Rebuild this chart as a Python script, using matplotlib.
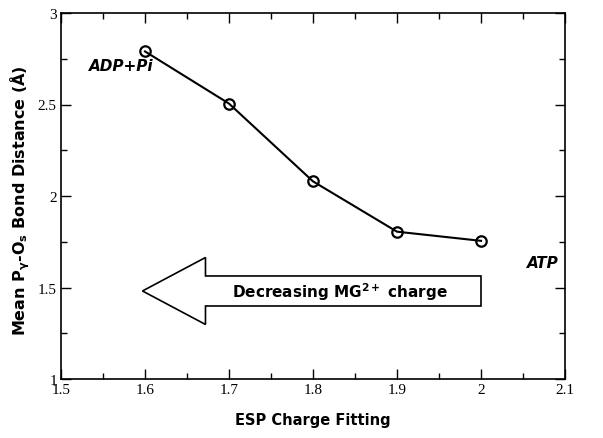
import numpy as np
import matplotlib.pyplot as plt
from matplotlib.patches import FancyArrow
from matplotlib.ticker import MultipleLocator

# data
esp_charge = [1.6, 1.7, 1.8, 1.9, 2.0]
mean_dist = [2.79, 2.505, 2.08, 1.805, 1.755]
xticks = [1.5, 1.6, 1.7, 1.8, 1.9, 2.0, 2.1]
xtick_labels = ['1.5', '1.6', '1.7', '1.8', '1.9', '2', '2.1']
yticks = [1, 1.5, 2, 2.5, 3]
ytick_labels = ['1', '1.5', '2', '2.5', '3']

fig = plt.figure(figsize=(6.03, 4.39), dpi=100)
ax = fig.add_axes([61 / 603, 1 - 380 / 439, 504 / 603, 366 / 439])

ax.plot(esp_charge, mean_dist, color='black', lw=1.5, marker='o', ms=7.5,
        mfc='none', mec='black', mew=1.6)

ax.set_xlim(1.5, 2.1)
ax.set_ylim(1, 3)
ax.set_xticks(xticks)
ax.set_xticklabels(xtick_labels)
ax.set_yticks(yticks)
ax.set_yticklabels(ytick_labels)
ax.xaxis.set_minor_locator(MultipleLocator(0.05))
ax.yaxis.set_minor_locator(MultipleLocator(0.25))
ax.tick_params(which='both', direction='in', top=True, right=True,
               labelsize=11, width=1, pad=3)
ax.tick_params(which='major', length=7)
ax.tick_params(which='minor', length=4)
for lab in ax.get_xticklabels() + ax.get_yticklabels():
    lab.set_fontfamily('Liberation Serif')
for s in ax.spines.values():
    s.set_linewidth(1.2)

ax.set_xlabel('ESP Charge Fitting', fontsize=10.5, fontweight='bold')
ax.xaxis.set_label_coords(0.5, -0.09)
ax.set_ylabel(r'Mean P$_\mathbf{\gamma}$-O$_\mathbf{s}$ Bond Distance (Å)',
              fontsize=11.5, fontweight='bold')
ax.yaxis.set_label_coords(-0.057, 0.49)

# annotations
ax.text(1.533, 2.69, 'ADP+Pi', fontsize=11, fontweight='bold', style='italic')
ax.text(2.055, 1.61, 'ATP', fontsize=11, fontweight='bold', style='italic')

arrow = FancyArrow(2.0, 1.481, -0.403, 0, width=0.164, head_width=0.366,
                   head_length=0.075, length_includes_head=True,
                   facecolor='white', edgecolor='black', lw=1.2)
ax.add_patch(arrow)
ax.text(1.832, 1.481, r'Decreasing MG$^\mathbf{2+}$ charge', fontsize=11,
        fontweight='bold', ha='center', va='center')

fig.savefig('out.png', dpi=100)
